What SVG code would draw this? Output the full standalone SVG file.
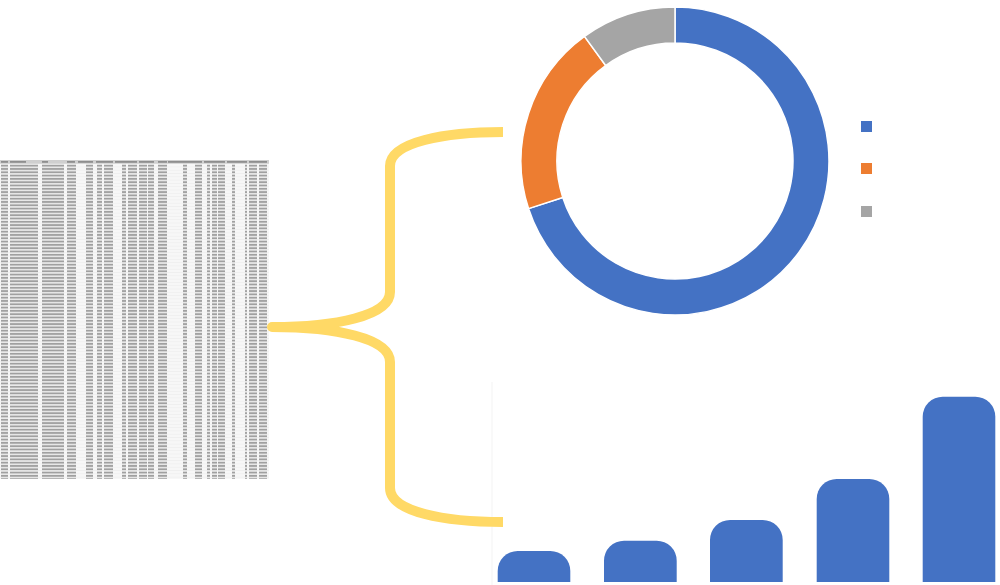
<svg xmlns="http://www.w3.org/2000/svg" width="1000" height="585" viewBox="0 0 1000 585">
  <style>
    .blue{fill:#4472C4}
    .orange{fill:#ED7D31}
    .gray{fill:#A5A5A5}
    .seg{stroke:#FFFFFF;stroke-width:1.5}
    .brace{fill:none;stroke:#FFD966;stroke-width:10;stroke-linecap:butt;stroke-linejoin:round}
    .cell{fill:#a0a0a0}
    .head{fill:#8e8e8e}
  </style>
  <defs>
    <pattern id="rows" patternUnits="userSpaceOnUse" x="0" y="164" width="270" height="3.3">
      <rect x="0" y="0" width="270" height="3.3" fill="#f7f7f7"/>
      <rect x="0" y="3.05" width="270" height="0.25" fill="#dedede"/>
      <rect class="cell" x="1" y="0.7" width="7" height="1.9"/>
      <rect class="cell" x="10" y="0.7" width="28" height="1.9"/>
      <rect class="cell" x="42" y="0.7" width="22" height="1.9"/>
      <rect class="cell" x="67" y="0.7" width="9" height="1.9"/>
      <rect class="cell" x="86" y="0.7" width="7" height="1.9"/>
      <rect class="cell" x="97" y="0.7" width="5" height="1.9"/>
      <rect class="cell" x="104" y="0.7" width="9" height="1.9"/>
      <rect class="cell" x="122" y="0.7" width="4" height="1.9"/>
      <rect class="cell" x="128" y="0.7" width="9" height="1.9"/>
      <rect class="cell" x="139" y="0.7" width="8" height="1.9"/>
      <rect class="cell" x="148" y="0.7" width="6" height="1.9"/>
      <rect class="cell" x="158" y="0.7" width="9" height="1.9"/>
      <rect class="cell" x="183" y="0.7" width="4" height="1.9"/>
      <rect class="cell" x="195" y="0.7" width="7" height="1.9"/>
      <rect class="cell" x="207" y="0.7" width="3" height="1.9"/>
      <rect class="cell" x="212" y="0.7" width="5" height="1.9"/>
      <rect class="cell" x="218" y="0.7" width="7" height="1.9"/>
      <rect class="cell" x="232" y="0.7" width="3" height="1.9"/>
      <rect class="cell" x="245" y="0.7" width="2" height="1.9"/>
      <rect class="cell" x="249" y="0.7" width="8" height="1.9"/>
      <rect class="cell" x="259" y="0.7" width="8" height="1.9"/>
    </pattern>
  </defs>
  <rect x="0" y="0" width="1000" height="585" fill="#FFFFFF"/>

  <g id="spreadsheet">
    <rect x="0" y="160" width="269" height="3.8" fill="#cfcfcf"/>
    <rect class="head" x="1" y="161" width="7" height="1.8"/>
    <rect class="head" x="10" y="161" width="16" height="1.8"/>
    <rect class="head" x="42" y="161" width="6" height="1.8"/>
    <rect class="head" x="67" y="161" width="8" height="1.8"/>
    <rect class="head" x="78" y="161" width="15" height="1.8"/>
    <rect class="head" x="96" y="161" width="17" height="1.8"/>
    <rect class="head" x="115" y="161" width="22" height="1.8"/>
    <rect class="head" x="139" y="161" width="15" height="1.8"/>
    <rect class="head" x="158" y="161" width="9" height="1.8"/>
    <rect class="head" x="168" y="161" width="34" height="1.8"/>
    <rect class="head" x="204" y="161" width="21" height="1.8"/>
    <rect class="head" x="227" y="161" width="20" height="1.8"/>
    <rect class="head" x="249" y="161" width="18" height="1.8"/>
    <rect x="0" y="164" width="269" height="315" fill="url(#rows)"/>
  </g>

  <g id="bar-chart">
    <line x1="492" y1="382" x2="492" y2="585" stroke="#f3f3f3" stroke-width="1"/>
    <path id="bar1" class="blue" d="M497.7,582 V571 A20,20 0 0 1 517.7,551 H550.3 A20,20 0 0 1 570.3,571 V582 Z"/>
    <path id="bar2" class="blue" d="M604,582 V560.7 A20,20 0 0 1 624,540.7 H656.7 A20,20 0 0 1 676.7,560.7 V582 Z"/>
    <path id="bar3" class="blue" d="M710,582 V540 A20,20 0 0 1 730,520 H762.7 A20,20 0 0 1 782.7,540 V582 Z"/>
    <path id="bar4" class="blue" d="M816.7,582 V499 A20,20 0 0 1 836.7,479 H869.3 A20,20 0 0 1 889.3,499 V582 Z"/>
    <path id="bar5" class="blue" d="M922.7,582 V416.7 A20,20 0 0 1 942.7,396.7 H975.3 A20,20 0 0 1 995.3,416.7 V582 Z"/>
  </g>

  <g id="donut-chart">
    <path id="donut-blue" class="blue seg" d="M675,7 A154,154 0 1 1 528.53,208.59 L562.77,197.46 A118,118 0 1 0 675,43 Z"/>
    <path id="donut-orange" class="orange seg" d="M528.53,208.59 A154,154 0 0 1 584.48,36.41 L605.64,65.54 A118,118 0 0 0 562.77,197.46 Z"/>
    <path id="donut-gray" class="gray seg" d="M584.48,36.41 A154,154 0 0 1 675,7 L675,43 A118,118 0 0 0 605.64,65.54 Z"/>
  </g>

  <g id="legend">
    <rect class="blue" x="861" y="121" width="11" height="11"/>
    <rect class="orange" x="861" y="163" width="11" height="11"/>
    <rect class="gray" x="861" y="206" width="11" height="11"/>
  </g>

  <g id="connectors">
    <path id="brace" class="brace" d="M503,132 C445,132 390,142 390,166 L390,292 C390,316 335,327 272,327 C335,327 390,338 390,362 L390,488 C390,512 445,522 503,522"/>
  </g>
</svg>
